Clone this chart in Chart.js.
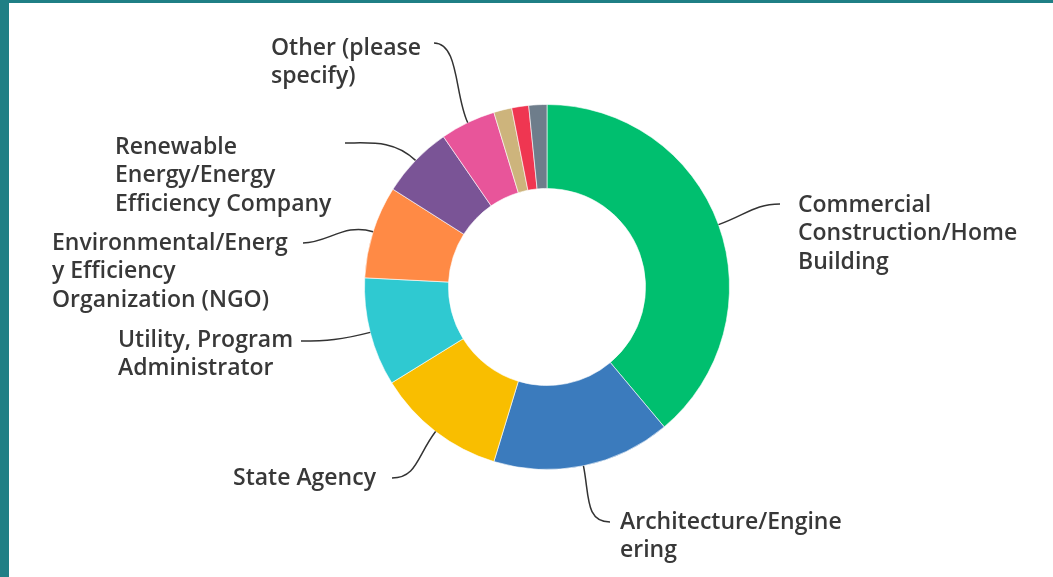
<!DOCTYPE html>
<html>
<head>
<meta charset="utf-8">
<script src="https://cdn.jsdelivr.net/npm/chart.js@4.4.1/dist/chart.umd.min.js"></script>
<style>
  html, body { margin:0; padding:0; background:#fff; }
  body { width:1053px; height:577px; overflow:hidden; box-sizing:border-box;
         border-left:9px solid #1f7f85; border-top:3px solid #1f7f85; }
  #wrap { position:relative; width:1044px; height:574px; }
</style>
</head>
<body>
<div id="wrap"><canvas id="donut"></canvas></div>
<script>
/* ── Data ── */
const CATEGORIES = [
  'Commercial Construction/Home Building',
  'Architecture/Engineering',
  'State Agency',
  'Utility, Program Administrator',
  'Environmental/Energy Efficiency Organization (NGO)',
  'Renewable Energy/Energy Efficiency Company',
  'Other (please specify)',
  '', '', ''
];
const SHARES = [38.9, 15.8, 11.5, 9.6, 8.2, 6.4, 4.9, 1.6, 1.5, 1.6];
const COLORS = ['#00bf6f','#3b7bbd','#f9be00','#2fc9d1','#ff8a45','#7a5496','#e8559a','#cdb47c','#ef3651','#6e7d8b'];

// wrapped label lines as printed on the chart (null = no label)
const LABEL_LINES = [
  ['Commercial','Construction/Home','Building'],
  ['Architecture/Engine','ering'],
  ['State Agency'],
  ['Utility, Program','Administrator'],
  ['Environmental/Energ','y Efficiency','Organization (NGO)'],
  ['Renewable','Energy/Energy','Efficiency Company'],
  ['Other (please','specify)'],
  null, null, null
];

/* ── Label layout (page px): leader end point + text block origin ── */
const OFFSET = { x:9, y:3 };
const LAYOUT = [
  { ex:780, ey:204, tx:798, ty:205, dir:-1 },
  { ex:610, ey:522, tx:620, ty:522, dir:-1 },
  { ex:392, ey:478, tx:233, ty:478, dir: 1 },
  { ex:301, ey:341, tx:118, ty:340, dir: 1 },
  { ex:303, ey:243, tx:52,  ty:243, dir: 1 },
  { ex:345, ey:143, tx:115, ty:147, dir: 1 },
  { ex:434, ey:43,  tx:271, ty:48,  dir: 1 },
];
const LINE_H = 28.5;
const FONT = '600 23px "Open Sans", sans-serif';

const leaderLabels = {
  id:'leaderLabels',
  afterDraw(chart) {
    const ctx = chart.ctx;
    const meta = chart.getDatasetMeta(0);
    ctx.save();
    ctx.strokeStyle = '#333';
    ctx.lineWidth = 1.5;
    ctx.fillStyle = '#383838';
    ctx.font = FONT;
    ctx.textAlign = 'left';
    ctx.textBaseline = 'middle';
    LAYOUT.forEach((L, i) => {
      const lines = LABEL_LINES[i];
      if (!lines) return;
      const a = meta.data[i].getProps(['x','y','startAngle','endAngle','outerRadius'], true);
      const mid = (a.startAngle + a.endAngle) / 2;
      const sx = a.x + Math.cos(mid) * a.outerRadius;
      const sy = a.y + Math.sin(mid) * a.outerRadius;
      const c1x = a.x + Math.cos(mid) * (a.outerRadius + 30);
      const c1y = a.y + Math.sin(mid) * (a.outerRadius + 30);
      const ex = L.ex - OFFSET.x, ey = L.ey - OFFSET.y;
      ctx.beginPath();
      ctx.moveTo(sx, sy);
      ctx.bezierCurveTo(c1x, c1y, ex + L.dir * 25, ey, ex, ey);
      ctx.stroke();
      lines.forEach((t, k) => ctx.fillText(t, L.tx - OFFSET.x, L.ty - OFFSET.y + k * LINE_H));
    });
    ctx.restore();
  }
};

new Chart(document.getElementById('donut'), {
  type:'doughnut',
  data:{
    labels: CATEGORIES,
    datasets:[{ data:SHARES, backgroundColor:COLORS, borderColor:'rgba(255,255,255,0.6)', borderWidth:1 }]
  },
  options:{
    responsive:true, maintainAspectRatio:false, animation:false,
    cutout:'54%',
    layout:{ padding:{ left:355, right:323, top:101, bottom:107 } },
    plugins:{ legend:{ display:false }, tooltip:{ enabled:false } }
  },
  plugins:[leaderLabels]
});
</script>
</body>
</html>
